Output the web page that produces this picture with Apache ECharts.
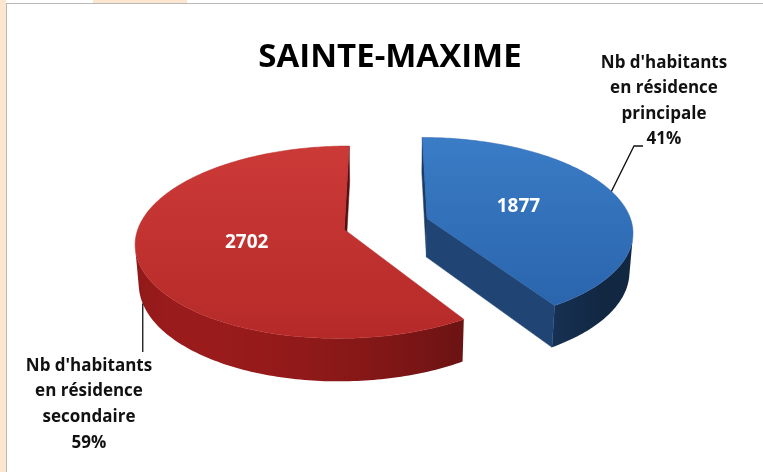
<!DOCTYPE html>
<html><head><meta charset="utf-8">
<script src="https://cdn.jsdelivr.net/npm/echarts@6/dist/echarts.min.js"></script>
<style>
html,body{margin:0;padding:0;background:#fff;}
#wrap{position:relative;width:763px;height:472px;overflow:hidden;background:#fff;}
#strip{position:absolute;left:0;top:0;width:6px;height:472px;background:#fde6cf;}
#topbox{position:absolute;left:93px;top:0;width:94px;height:3px;background:#fde6cf;}
#frameL{position:absolute;left:6px;top:3px;width:1px;height:469px;background:#b8b8b8;}
#frameT{position:absolute;left:6px;top:3px;width:757px;height:1px;background:#b8b8b8;}
#chart{position:absolute;left:0;top:0;width:763px;height:472px;}
</style></head>
<body><div id="wrap"><div id="strip"></div><div id="topbox"></div><div id="frameL"></div><div id="frameT"></div><div id="chart"></div></div>
<script>
// ---- data ----
const titleText = 'SAINTE-MAXIME';
const categories = ["Nb d'habitants\nen résidence\nprincipale", "Nb d'habitants\nen résidence\nsecondaire"];
const values = [1877, 2702];

// ---- styles / layout ----
const topColors = [['#3a7cc6', '#2a65ad'], ['#cc3a37', '#b52a29']];
const sideBase = [[36, 78, 132], [172, 30, 30]];
const G = { cx: 386, cy: 224, f: 1394, D: 6.8, tilt: 27 * Math.PI / 180, explode: 0.21, h: 0.215 };
G.s = Math.sin(G.tilt); G.c = Math.cos(G.tilt);
const labelLayout = [
  { anchorDeg: 72, anchorH: 0, bend: [[634, 146], [643, 146]], x: 664, y: 50, lh: 25.5, vertical: false },
  { anchorDeg: 250, anchorH: -1, bendY: 352, x: 89, y: 353, lh: 25.7, vertical: true }
];
const L = (function () { const v = [-0.5, 0.6, 0.6]; const n = Math.hypot(v[0], v[1], v[2]); return v.map(a => a / n); })();
const total = values.reduce((a, b) => a + b, 0);

function proj(X, H, Z) {
  const yc = H * G.c - Z * G.s;
  const depth = G.D - (Z * G.c + H * G.s);
  return [G.cx + G.f * X / depth, G.cy - G.f * yc / depth, depth];
}
function rgb(c, k) { return 'rgb(' + c.map(v => Math.round(Math.min(255, v * k))).join(',') + ')'; }
function shade(n) { return 0.5 + 0.5 * Math.max(0, n[0] * L[0] + n[1] * L[1] + n[2] * L[2]); }

function renderItem(params, api) {
  const idx = params.dataIndex;
  const val = api.value(1);
  let start = 0;
  for (let i = 0; i < idx; i++) start += values[i];
  const a1 = start / total * 2 * Math.PI;
  const a2 = (start + val) / total * 2 * Math.PI;
  const m = (a1 + a2) / 2;
  const ox = G.explode * Math.sin(m), oz = -G.explode * Math.cos(m);
  const rim = (t, H, r) => { r = r == null ? 1 : r; return [ox + r * Math.sin(t), H, oz - r * Math.cos(t)]; };
  const C = [0, G.D * G.s, G.D * G.c];
  const steps = Math.max(8, Math.ceil((a2 - a1) / (Math.PI / 180)));
  const h = -G.h;
  const visible = (pts3, n) => {
    const cx = pts3.reduce((s, p) => s + p[0], 0) / pts3.length;
    const cy = pts3.reduce((s, p) => s + p[1], 0) / pts3.length;
    const cz = pts3.reduce((s, p) => s + p[2], 0) / pts3.length;
    return n[0] * (C[0] - cx) + n[1] * (C[1] - cy) + n[2] * (C[2] - cz) > 0;
  };
  const children = [];
  // curved side: one polygon over the visible run, with a horizontal shading gradient
  const vis = [];
  for (let i = 0; i < steps; i++) {
    const t0 = a1 + (a2 - a1) * i / steps, t1 = a1 + (a2 - a1) * (i + 1) / steps;
    const tm = (t0 + t1) / 2;
    const n = [Math.sin(tm), 0, -Math.cos(tm)];
    if (visible([rim(t0, 0), rim(t1, 0), rim(t1, h), rim(t0, h)], n)) vis.push(i);
  }
  if (vis.length) {
    const i0 = vis[0], i1 = vis[vis.length - 1] + 1;
    const topE = [], botE = [], samples = [];
    for (let i = i0; i <= i1; i++) {
      const t = a1 + (a2 - a1) * i / steps;
      const p = rim(t, 0), q = rim(t, h);
      const pp = proj(p[0], p[1], p[2]), qq = proj(q[0], q[1], q[2]);
      topE.push([pp[0], pp[1]]); botE.push([qq[0], qq[1]]);
      samples.push({ x: pp[0], k: shade([Math.sin(t), 0, -Math.cos(t)]) });
    }
    const xs = samples.map(s => s.x);
    const minX = Math.min.apply(null, xs), maxX = Math.max.apply(null, xs);
    samples.sort((p, q) => p.x - q.x);
    const stops = samples.map(s => ({ offset: (s.x - minX) / Math.max(1, maxX - minX), color: rgb(sideBase[idx], s.k) }));
    const grad = new echarts.graphic.LinearGradient(minX, 0, maxX, 0, stops, true);
    children.push({ type: 'polygon', shape: { points: topE.concat(botE.reverse()) }, style: { fill: grad, stroke: null } });
  }
  // radial cuts
  const c0 = [ox, 0, oz], c1 = [ox, h, oz];
  [[a1, [-Math.cos(a1), 0, -Math.sin(a1)]], [a2, [Math.cos(a2), 0, Math.sin(a2)]]].forEach(([a, n]) => {
    const pts3 = [c0, rim(a, 0), rim(a, h), c1];
    if (!visible(pts3, n)) return;
    const col = rgb(sideBase[idx], shade(n));
    children.push({ type: 'polygon', shape: { points: pts3.map(p => { const q = proj(p[0], p[1], p[2]); return [q[0], q[1]]; }) }, style: { fill: col, stroke: col, lineWidth: 0.5 } });
  });
  // top face
  const topPts = [proj(ox, 0, oz)];
  for (let i = 0; i <= steps; i++) { const t = a1 + (a2 - a1) * i / steps; const p = rim(t, 0); topPts.push(proj(p[0], p[1], p[2])); }
  children.push({
    type: 'polygon', shape: { points: topPts.map(p => [p[0], p[1]]) },
    style: {
      fill: new echarts.graphic.LinearGradient(0, 0, 0, 1, [{ offset: 0, color: topColors[idx][0] }, { offset: 1, color: topColors[idx][1] }]),
      stroke: topColors[idx][1], lineWidth: 0.5
    }
  });
  // value label
  const lp = rim(m, 0, 0.48); const lpp = proj(lp[0], lp[1], lp[2]);
  children.push({ type: 'text', x: lpp[0], y: lpp[1], style: { text: String(val), fill: '#fff', fontSize: 19, fontWeight: 'bold', fontFamily: 'Open Sans', align: 'center', verticalAlign: 'middle' } });
  // outer label + leader
  const lay = labelLayout[idx];
  const ap = rim(lay.anchorDeg * Math.PI / 180, lay.anchorH * G.h, 1); const app = proj(ap[0], ap[1], ap[2]);
  const pts = [[app[0], app[1]]];
  if (lay.vertical) pts.push([app[0], lay.bendY]); else lay.bend.forEach(b => pts.push(b));
  children.push({ type: 'polyline', shape: { points: pts }, style: { stroke: '#111', lineWidth: 1.3, fill: null } });
  const pct = Math.round(val / total * 100) + '%';
  children.push({ type: 'text', x: lay.x, y: lay.y, style: { text: categories[idx] + '\n' + pct, fill: '#111', fontSize: 17, fontWeight: 'bold', fontFamily: 'Open Sans', align: 'center', verticalAlign: 'top', lineHeight: lay.lh } });
  return { type: 'group', children };
}

const chart = echarts.init(document.getElementById('chart'), null, { renderer: 'canvas' });
chart.setOption({
  animation: false,
  title: { text: titleText, left: 385, top: 36, textAlign: 'center', textStyle: { fontSize: 33, fontWeight: 'bold', fontFamily: 'Open Sans', color: '#000' } },
  series: [{
    type: 'custom', coordinateSystem: 'none', renderItem,
    data: values.map((v, i) => ({ name: categories[i], value: [i, v] }))
  }]
});
</script>
</body></html>
